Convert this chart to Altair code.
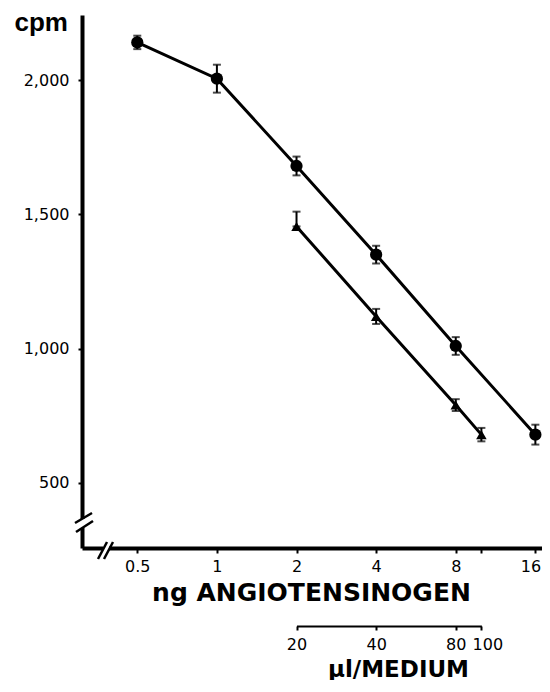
import math
import altair as alt
import pandas as pd

# ---- data ----
ng_circle = [0.5, 1, 2, 4, 8, 16]
cpm_circle = [2140, 2005, 1680, 1350, 1010, 680]
err_circle = [25, 52, 35, 33, 33, 37]

ng_tri = [2, 4, 8, 10]
cpm_tri = [1455, 1120, 790, 680]
err_tri_up = [55, 28, 22, 25]
err_tri_dn = [0, 28, 22, 25]

x_ticks = [0.5, 1, 2, 4, 8, 10, 16]
y_ticks = [500, 1000, 1500, 2000]
ul_ticks = [20, 40, 80, 100]
UL_PER_NG = 10  # 20 µl medium <-> 2 ng angiotensinogen

# ---- layout ----
W, H = 460, 533
XDOM = [0.309, 16.95]
YDOM = [258, 2242]
FONT = "Liberation Sans"
LFONT = "DejaVu Sans"


def xpx(v):
    return W * (math.log(v) - math.log(XDOM[0])) / (math.log(XDOM[1]) - math.log(XDOM[0]))


circ = pd.DataFrame({
    "ng": ng_circle, "cpm": cpm_circle,
    "lo": [c - e for c, e in zip(cpm_circle, err_circle)],
    "hi": [c + e for c, e in zip(cpm_circle, err_circle)],
    "series": "circle",
})
tri = pd.DataFrame({
    "ng": ng_tri, "cpm": cpm_tri,
    "lo": [c - e for c, e in zip(cpm_tri, err_tri_dn)],
    "hi": [c + e for c, e in zip(cpm_tri, err_tri_up)],
    "series": "triangle",
})
df = pd.concat([circ, tri], ignore_index=True)

XS = alt.Scale(type="log", domain=XDOM, nice=False)
XA = alt.Axis(
    values=x_ticks,
    labelExpr="datum.value == 10 ? '' : (datum.value < 1 ? '0.5' : format(datum.value, 'd'))",
    labelOverlap=False, labelFlush=False,
    labelOffset={"condition": {"test": "datum.value == 16", "value": -5}, "value": 0},
    domainWidth=4, domainColor="black", tickColor="black", tickWidth=2, tickSize=5,
    labelFont=LFONT, labelFontSize=16, labelColor="black", labelPadding=5,
    titleFont=LFONT, titleFontSize=25, titleFontWeight="bold", titleColor="black",
    titleX=229, titleY=52, titleBaseline="alphabetic", titleAlign="center",
)
YS = alt.Scale(domain=YDOM, nice=False, zero=False)
YA = alt.Axis(
    values=y_ticks, labelExpr="format(datum.value, ',')", labelOverlap=False, labelFlush=False,
    domainWidth=4, domainColor="black", tickColor="black", tickWidth=2, tickSize=4,
    labelFont=LFONT, labelFontSize=16, labelColor="black", labelPadding=9,
    titleFont=FONT, titleFontSize=26, titleFontWeight="bold", titleColor="black",
    titleAngle=0, titleAlign="left", titleBaseline="alphabetic", titleX=-68, titleY=15,
)

X = alt.X("ng:Q", scale=XS, axis=XA, title="ng ANGIOTENSINOGEN")


def Yf(field):
    return alt.Y(field, scale=YS, axis=YA, title="cpm")


base = alt.Chart(df)
line = base.mark_line(color="black", strokeWidth=3).encode(x=X, y=Yf("cpm:Q"), detail="series:N")
stem = base.mark_rule(color="black", strokeWidth=2).encode(x=X, y=Yf("lo:Q"), y2="hi:Q")
cap_hi = base.mark_tick(color="black", orient="horizontal", size=8, thickness=2).encode(x=X, y=Yf("hi:Q"))
cap_lo = base.mark_tick(color="black", orient="horizontal", size=8, thickness=2).encode(x=X, y=Yf("lo:Q"))
pts_c = alt.Chart(circ).mark_point(filled=True, opacity=1, color="black", shape="circle", size=150).encode(
    x=X, y=Yf("cpm:Q"))
pts_t = alt.Chart(tri).mark_point(filled=True, opacity=1, color="black", shape="triangle-up", size=110).encode(
    x=X, y=Yf("cpm:Q"))

# axis breaks (decoration)
one = pd.DataFrame({"k": [0]})
brk_white_y = alt.Chart(one).mark_rect(color="white").encode(
    x=alt.value(-4), x2=alt.value(4), y=alt.value(504), y2=alt.value(513))
brk_white_x = alt.Chart(one).mark_rect(color="white").encode(
    x=alt.value(21), x2=alt.value(27), y=alt.value(529), y2=alt.value(538))
sl1 = alt.Chart(one).mark_rule(color="black", strokeWidth=2.5).encode(
    x=alt.value(-7), y=alt.value(508), x2=alt.value(10), y2=alt.value(498))
sl2 = alt.Chart(one).mark_rule(color="black", strokeWidth=2.5).encode(
    x=alt.value(-6), y=alt.value(517), x2=alt.value(11), y2=alt.value(506))
sl3 = alt.Chart(one).mark_rule(color="black", strokeWidth=2.5).encode(
    x=alt.value(16), y=alt.value(544), x2=alt.value(25), y2=alt.value(527))
sl4 = alt.Chart(one).mark_rule(color="black", strokeWidth=2.5).encode(
    x=alt.value(22), y=alt.value(544), x2=alt.value(31), y2=alt.value(527))

main = alt.layer(line, stem, cap_hi, cap_lo, pts_c, pts_t,
                 brk_white_y, brk_white_x, sl1, sl2, sl3, sl4)

# secondary µl axis
ul_df = pd.DataFrame({"ul": ul_ticks})
ul_layer = alt.Chart(ul_df).mark_point(opacity=0).encode(
    x=alt.X("ul:Q",
            scale=alt.Scale(type="log", domain=[ul_ticks[0], ul_ticks[-1]], nice=False,
                            range=[xpx(ul_ticks[0] / UL_PER_NG), xpx(ul_ticks[-1] / UL_PER_NG)]),
            axis=alt.Axis(values=ul_ticks, orient="bottom", offset=78,
                          labelExpr="format(datum.value, 'd')", labelOverlap=False, labelFlush=False,
                          labelOffset={"condition": {"test": "datum.value == 100", "value": 6}, "value": 0},
                          domainWidth=2, domainColor="black", tickColor="black", tickWidth=2, tickSize=4,
                          labelFont=LFONT, labelFontSize=16, labelColor="black", labelPadding=6,
                          titleFont=LFONT, titleFontSize=23, titleFontWeight="bold", titleColor="black",
                          titleX=316, titleY=50, titleBaseline="alphabetic", titleAlign="center"),
            title="µl/MEDIUM"),
    y=alt.value(0),
)

chart = alt.layer(main, ul_layer).resolve_scale(x="independent").properties(
    width=W, height=H,
    autosize=alt.AutoSizeParams(type="none"),
    padding={"left": 74, "top": 7, "right": 0, "bottom": 132},
    background="white",
).configure_view(stroke=None).configure_axis(grid=False)

chart.save("out.html", embed_options={"renderer": "svg", "actions": False})
